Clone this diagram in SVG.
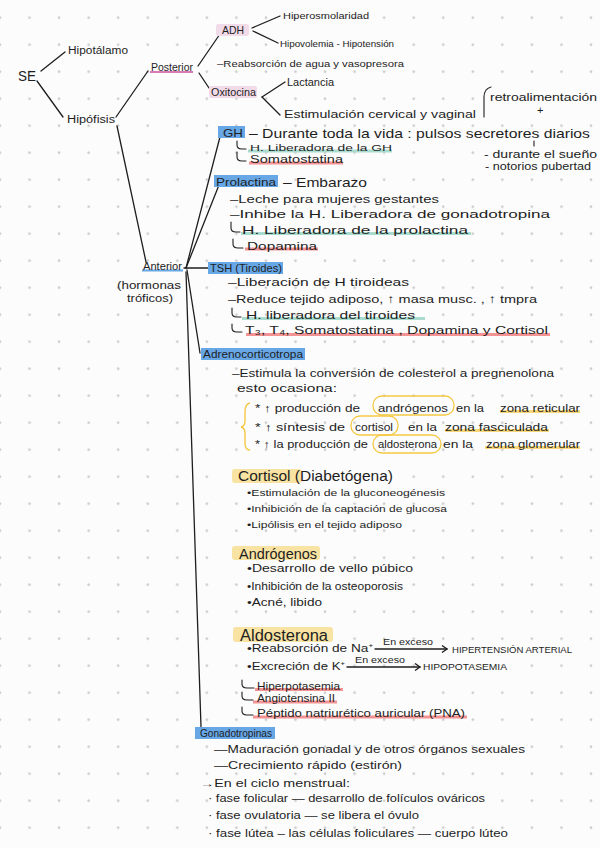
<svg xmlns="http://www.w3.org/2000/svg" width="600" height="848" viewBox="0 0 600 848">
<defs>
<pattern id="dots" patternUnits="userSpaceOnUse" x="-14.775" y="3.2" width="29.55" height="27">
<circle cx="14.775" cy="14.5" r="1.3" fill="#c9c9c9"/>
</pattern>
<marker id="arr" markerWidth="8" markerHeight="8" refX="6" refY="4" orient="auto" markerUnits="userSpaceOnUse">
<path d="M1,0.5 L6,4 L1,7.5" fill="none" stroke="#1e1e1e" stroke-width="1.3"/>
</marker>
<style>
text{font-family:"Liberation Sans","Noto Sans",sans-serif;fill:#1e1e1e}
.s9{font-size:9.5px}.s10{font-size:10px}.s11{font-size:11px}.s12{font-size:11.5px}.s13{font-size:13px}.s14{font-size:14px}.s15{font-size:15px}.s16{font-size:16px}
.blue{fill:#68a7e6}.pink{fill:#f2dbe9}.yel{fill:#f8e3a2}
.teal{fill:#a9dbcf}.red{fill:#f49393}.yline{fill:#f7d77a}
.ln{fill:none;stroke:#1e1e1e;stroke-width:1.3;stroke-linecap:round}
.hook{fill:none;stroke:#1e1e1e;stroke-width:1.1;stroke-linecap:round}
.cloud{fill:none;stroke:#f5c842;stroke-width:1.3}
</style>
</defs>
<rect width="600" height="848" fill="#fcfcfc"/>
<rect width="600" height="848" fill="url(#dots)"/>

<g id="connectors">
<path class="ln" d="M41,71 L65,52"/>
<path class="ln" d="M37,81 L63,117"/>
<path class="ln" d="M116,117 L148,71"/>
<path class="ln" d="M117,126 L146,262"/>
<path class="ln" d="M198,66 L220,34"/>
<path class="ln" d="M199,73 L209,88"/>
<path class="ln" d="M252,28 L280,16"/>
<path class="ln" d="M253,31 L278,43"/>
<path class="ln" d="M262,97 L285,82"/>
<path class="ln" d="M262,97 L280,115"/>
<path class="ln" d="M186,268 L221,133"/>
<path class="ln" d="M186,268 L219,185"/>
<path class="ln" d="M184,268 L210,268" stroke-width="1.8"/>
<path class="ln" d="M187,270 L200,353"/>
<path class="ln" d="M186,272 L201,727"/>
</g>

<g id="se"><text class="s14" x="18" y="81" textLength="18" lengthAdjust="spacingAndGlyphs">SE</text></g>
<g id="hipotalamo"><text class="s10" x="68" y="53.5" textLength="60" lengthAdjust="spacingAndGlyphs">Hipotálamo</text></g>
<g id="hipofisis"><text class="s10" x="67" y="122.5" textLength="48" lengthAdjust="spacingAndGlyphs">Hipófisis</text></g>

<g id="posterior">
<rect x="150" y="71" width="43" height="2" fill="#d77ab5"/>
<text class="s10" x="151" y="71" textLength="42" lengthAdjust="spacingAndGlyphs">Posterior</text>
</g>
<g id="adh">
<rect class="pink" x="216" y="24" width="33" height="12" rx="2"/>
<text class="s11" x="222" y="34" textLength="22" lengthAdjust="spacingAndGlyphs">ADH</text>
</g>
<g id="hiperosmolaridad"><text class="s9" x="283" y="18.5" textLength="86" lengthAdjust="spacingAndGlyphs">Hiperosmolaridad</text></g>
<g id="hipovolemia"><text class="s9" x="280" y="47.3" textLength="114" lengthAdjust="spacingAndGlyphs">Hipovolemia - Hipotensión</text></g>
<g id="reabsorcion-agua"><text class="s9" x="217" y="67.3" textLength="187" lengthAdjust="spacingAndGlyphs">–Reabsorción de agua y vasopresora</text></g>
<g id="oxitocina">
<rect class="pink" x="209" y="86" width="48" height="12" rx="2"/>
<text class="s10" x="211" y="95.5" textLength="45" lengthAdjust="spacingAndGlyphs">Oxitocina</text>
</g>
<g id="lactancia"><text class="s11" x="287" y="86" textLength="47" lengthAdjust="spacingAndGlyphs">Lactancia</text></g>
<g id="estimulacion"><text class="s10" x="284" y="118" textLength="192" lengthAdjust="spacingAndGlyphs">Estimulación cervical y vaginal</text></g>
<g id="retroalimentacion">
<path class="hook" d="M491,87 Q484,89 484,97 L484,117"/>
<text class="s11" x="490" y="101" textLength="107" lengthAdjust="spacingAndGlyphs">retroalimentación</text>
<text class="s11" x="537" y="114">+</text>
</g>

<g id="anterior">
<rect class="blue" x="142" y="269.5" width="41" height="2"/>
<text class="s10" x="143" y="269.5" textLength="39" lengthAdjust="spacingAndGlyphs">Anterior</text>
<text class="s11" x="117" y="289" textLength="64" lengthAdjust="spacingAndGlyphs">(hormonas</text>
<text class="s11" x="127" y="302" textLength="46" lengthAdjust="spacingAndGlyphs">tróficos)</text>
</g>

<g id="gh">
<rect class="blue" x="218" y="126" width="27" height="12"/>
<text class="s12" x="223" y="136.5" textLength="20" lengthAdjust="spacingAndGlyphs">GH</text>
<text class="s13" x="249" y="137.5" textLength="341" lengthAdjust="spacingAndGlyphs">– Durante toda la vida : pulsos secretores diarios</text>
<rect class="teal" x="248" y="149.5" width="144" height="3"/>
<path class="hook" d="M237,141 L237,145 Q237,149 242,149 L246,149"/>
<text class="s9" x="250" y="151" textLength="142" lengthAdjust="spacingAndGlyphs">H. Liberadora de la GH</text>
<rect class="red" x="249" y="161.5" width="94" height="3"/>
<path class="hook" d="M237,152 L237,157 Q237,161 242,161 L246,161"/>
<text class="s10" x="250" y="163" textLength="93" lengthAdjust="spacingAndGlyphs">Somatostatina</text>
<path class="hook" d="M534,141 L534,146"/>
<text class="s10" x="484" y="157.5" textLength="113" lengthAdjust="spacingAndGlyphs">- durante el sueño</text>
<text class="s10" x="485" y="170" textLength="106" lengthAdjust="spacingAndGlyphs">- notorios pubertad</text>
</g>

<g id="prolactina">
<rect class="blue" x="214" y="175" width="64" height="12"/>
<text class="s11" x="216" y="185.5" textLength="60" lengthAdjust="spacingAndGlyphs">Prolactina</text>
<text class="s13" x="283" y="186.5" textLength="84" lengthAdjust="spacingAndGlyphs">– Embarazo</text>
<text class="s12" x="230" y="203" textLength="209" lengthAdjust="spacingAndGlyphs">–Leche para mujeres gestantes</text>
<text class="s12" x="230" y="217.5" textLength="320" lengthAdjust="spacingAndGlyphs">–Inhibe la H. Liberadora de gonadotropina</text>
<rect class="teal" x="241" y="232" width="230" height="3"/>
<path class="hook" d="M231,222 L231,228 Q231,232 236,232 L240,232"/>
<text class="s12" x="242" y="234" textLength="226" lengthAdjust="spacingAndGlyphs">H. Liberadora de la prolactina</text>
<rect class="red" x="245" y="247.5" width="73" height="3"/>
<path class="hook" d="M233,239 L233,244 Q233,248 238,248 L243,248"/>
<text class="s12" x="247" y="250" textLength="70" lengthAdjust="spacingAndGlyphs">Dopamina</text>
</g>

<g id="tsh">
<rect class="blue" x="208" y="262" width="75" height="12"/>
<text class="s11" x="210" y="272" textLength="72" lengthAdjust="spacingAndGlyphs">TSH (Tiroides)</text>
<text class="s12" x="228" y="286" textLength="181" lengthAdjust="spacingAndGlyphs">–Liberación de H tiroideas</text>
<text class="s12" x="228" y="302.5" textLength="309" lengthAdjust="spacingAndGlyphs">–Reduce tejido adiposo, ↑ masa musc. , ↑ tmpra</text>
<rect class="teal" x="242" y="317" width="183" height="3"/>
<path class="hook" d="M232,308 L232,313 Q232,317 237,317 L241,317"/>
<text class="s12" x="246" y="319" textLength="169" lengthAdjust="spacingAndGlyphs">H. liberadora del tiroides</text>
<rect class="red" x="246" y="333" width="304" height="3"/>
<path class="hook" d="M232,324 L232,328 Q232,332 237,332 L242,332"/>
<text class="s12" x="245" y="334" textLength="303" lengthAdjust="spacingAndGlyphs">T₃, T₄, Somatostatina , Dopamina y Cortisol</text>
</g>

<g id="adrenocorticotropa">
<rect class="blue" x="201" y="348" width="104" height="12"/>
<text class="s10" x="203" y="357.5" textLength="100" lengthAdjust="spacingAndGlyphs">Adrenocorticotropa</text>
<text class="s11" x="232" y="377" textLength="322" lengthAdjust="spacingAndGlyphs">–Estimula la conversión de colesterol a pregnenolona</text>
<text class="s11" x="237" y="392" textLength="100" lengthAdjust="spacingAndGlyphs">esto ocasiona:</text>
<path d="M250,403 Q245,404 245,412 L245,421 Q245,426 241,427 Q245,428 245,433 L245,443 Q245,450 250,450" fill="none" stroke="#f5c842" stroke-width="1.4"/>
<rect x="373" y="396" width="81" height="19" rx="9" class="cloud"/>
<rect x="351" y="416" width="47" height="19" rx="9" class="cloud"/>
<rect x="373" y="435" width="68" height="18" rx="9" class="cloud"/>
<rect class="yline" x="500" y="410" width="80" height="3"/>
<rect class="yline" x="445" y="429" width="104" height="3"/>
<rect class="yline" x="485" y="446" width="95" height="3"/>
<text class="s11" x="255" y="412" textLength="105" lengthAdjust="spacingAndGlyphs">* ↑ producción de</text>
<text class="s11" x="378" y="412" textLength="70" lengthAdjust="spacingAndGlyphs">andrógenos</text>
<text class="s11" x="456" y="412" textLength="28" lengthAdjust="spacingAndGlyphs">en la</text>
<text class="s11" x="500" y="412" textLength="80" lengthAdjust="spacingAndGlyphs">zona reticular</text>
<text class="s11" x="255" y="431" textLength="90" lengthAdjust="spacingAndGlyphs">* ↑ síntesis de</text>
<text class="s11" x="355" y="431" textLength="38" lengthAdjust="spacingAndGlyphs">cortisol</text>
<text class="s11" x="408" y="431" textLength="29" lengthAdjust="spacingAndGlyphs">en la</text>
<text class="s11" x="445" y="431" textLength="103" lengthAdjust="spacingAndGlyphs">zona fasciculada</text>
<text class="s11" x="255" y="448" textLength="113" lengthAdjust="spacingAndGlyphs">* ↑ la producción de</text>
<text class="s11" x="378" y="448" textLength="59" lengthAdjust="spacingAndGlyphs">aldosterona</text>
<text class="s11" x="443" y="448" textLength="30" lengthAdjust="spacingAndGlyphs">en la</text>
<text class="s11" x="486" y="448" textLength="94" lengthAdjust="spacingAndGlyphs">zona glomerular</text>
</g>

<g id="cortisol">
<rect class="yel" x="232" y="469" width="70" height="14" rx="3"/>
<text class="s14" x="238" y="481" textLength="155" lengthAdjust="spacingAndGlyphs">Cortisol (Diabetógena)</text>
<text class="s9" x="247" y="496" textLength="198" lengthAdjust="spacingAndGlyphs">•Estimulación de la gluconeogénesis</text>
<text class="s9" x="247" y="511.5" textLength="200" lengthAdjust="spacingAndGlyphs">•Inhibición de la captación de glucosa</text>
<text class="s9" x="247" y="527.5" textLength="155" lengthAdjust="spacingAndGlyphs">•Lipólisis en el tejido adiposo</text>
</g>

<g id="androgenos">
<rect class="yel" x="232" y="546" width="88" height="14" rx="3"/>
<text class="s15" x="239" y="558.5" textLength="78" lengthAdjust="spacingAndGlyphs">Andrógenos</text>
<text class="s10" x="247" y="572" textLength="166" lengthAdjust="spacingAndGlyphs">•Desarrollo de vello púbico</text>
<text class="s10" x="247" y="589.5" textLength="156" lengthAdjust="spacingAndGlyphs">•Inhibición de la osteoporosis</text>
<text class="s10" x="247" y="606" textLength="75" lengthAdjust="spacingAndGlyphs">•Acné, libido</text>
</g>

<g id="aldosterona">
<rect class="yel" x="233" y="627" width="100" height="15" rx="3"/>
<text class="s16" x="240" y="640.5" textLength="88" lengthAdjust="spacingAndGlyphs">Aldosterona</text>
<text class="s10" x="247" y="652" textLength="126" lengthAdjust="spacingAndGlyphs">•Reabsorción de Na⁺</text>
<path class="ln" d="M375,649 L447,649" marker-end="url(#arr)"/>
<text class="s9" x="383" y="645" textLength="50" lengthAdjust="spacingAndGlyphs">En exceso</text>
<text class="s9" x="452" y="652.5" textLength="120" lengthAdjust="spacingAndGlyphs">HIPERTENSIÓN ARTERIAL</text>
<text class="s10" x="247" y="670" textLength="98" lengthAdjust="spacingAndGlyphs">•Excreción de K⁺</text>
<path class="ln" d="M347,667 L420,667" marker-end="url(#arr)"/>
<text class="s9" x="355" y="663" textLength="50" lengthAdjust="spacingAndGlyphs">En exceso</text>
<text class="s9" x="423" y="669.5" textLength="84" lengthAdjust="spacingAndGlyphs">HIPOPOTASEMIA</text>
<rect class="red" x="255" y="688" width="88" height="3"/>
<path class="hook" d="M242,680 L242,684 Q242,688 247,688 L254,688"/>
<text class="s11" x="257" y="690" textLength="83" lengthAdjust="spacingAndGlyphs">Hiperpotasemia</text>
<rect class="red" x="253" y="700.5" width="84" height="3"/>
<path class="hook" d="M242,692 L242,696 Q242,700 247,700 L253,700"/>
<text class="s11" x="257" y="702" textLength="78" lengthAdjust="spacingAndGlyphs">Angiotensina II</text>
<rect class="red" x="253" y="715.5" width="214" height="3"/>
<path class="hook" d="M242,707 L242,711 Q242,715 247,715 L253,715"/>
<text class="s11" x="257" y="717" textLength="208" lengthAdjust="spacingAndGlyphs">Péptido natriurético auricular (PNA)</text>
</g>

<g id="gonadotropinas">
<rect class="blue" x="195" y="727" width="80" height="12"/>
<text class="s11" x="200" y="737" textLength="72" lengthAdjust="spacingAndGlyphs">Gonadotropinas</text>
<text class="s11" x="214" y="752.5" textLength="311" lengthAdjust="spacingAndGlyphs">—Maduración gonadal y de otros órganos sexuales</text>
<text class="s11" x="214" y="768.5" textLength="188" lengthAdjust="spacingAndGlyphs">—Crecimiento rápido (estirón)</text>
<text class="s10" x="200" y="786.5" textLength="150" lengthAdjust="spacingAndGlyphs">→En el ciclo menstrual:</text>
<text class="s10" x="208" y="801.5" textLength="277" lengthAdjust="spacingAndGlyphs">· fase folicular — desarrollo de folículos ováricos</text>
<text class="s10" x="208" y="818.5" textLength="211" lengthAdjust="spacingAndGlyphs">· fase ovulatoria — se libera el óvulo</text>
<text class="s10" x="208" y="836.5" textLength="300" lengthAdjust="spacingAndGlyphs">· fase lútea – las células foliculares — cuerpo lúteo</text>
</g>
</svg>
